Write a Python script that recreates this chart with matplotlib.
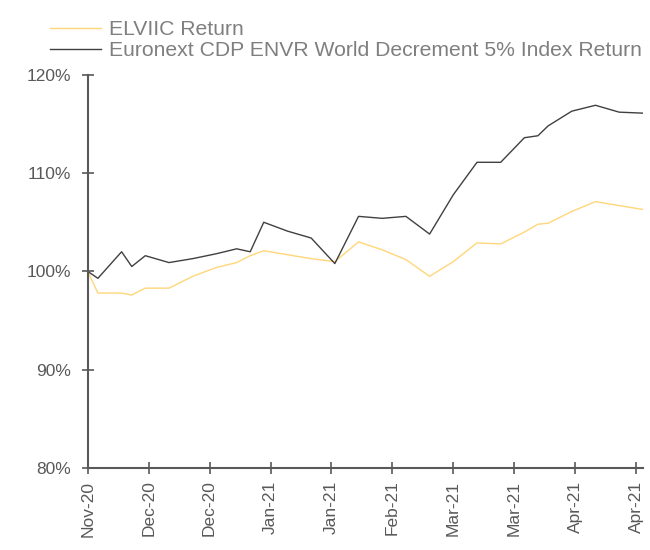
import matplotlib
matplotlib.use('Agg')
import matplotlib.pyplot as plt
import matplotlib.dates as mdates
import pandas as pd

# observation dates and returns (%)
dates = ['2020-11-16', '2020-11-19', '2020-11-26', '2020-11-29', '2020-12-03', '2020-12-10',
         '2020-12-17', '2020-12-24', '2020-12-30', '2021-01-03', '2021-01-07', '2021-01-14',
         '2021-01-21', '2021-01-28', '2021-02-04', '2021-02-11', '2021-02-18', '2021-02-25',
         '2021-03-04', '2021-03-11', '2021-03-18', '2021-03-25', '2021-03-29', '2021-04-01',
         '2021-04-08', '2021-04-15', '2021-04-22', '2021-04-29']
elviic = [100.0, 97.8, 97.8, 97.6, 98.3, 98.3, 99.5, 100.4, 100.9, 101.6, 102.1, 101.7,
          101.3, 101.0, 103.0, 102.2, 101.2, 99.5, 101.0, 102.9, 102.8, 104.0, 104.8, 104.9,
          106.1, 107.1, 106.7, 106.3]
index_ret = [100.0, 99.3, 102.0, 100.5, 101.6, 100.9, 101.3, 101.8, 102.3, 102.0, 105.0, 104.1,
             103.4, 100.8, 105.6, 105.4, 105.6, 103.8, 107.8, 111.1, 111.1, 113.6, 113.8, 114.8,
             116.3, 116.9, 116.2, 116.1]
labels = ['ELVIIC Return', 'Euronext CDP ENVR World Decrement 5% Index Return']

x = pd.to_datetime(dates)

plt.rcParams['font.family'] = ['Liberation Sans', 'DejaVu Sans']
grey = '#595959'

fig = plt.figure(figsize=(6.5, 5.5), dpi=100)
ax = fig.add_axes([0.135, 0.149, 0.854, 0.715])

ax.plot(x, elviic, color='#FFD67A', lw=1.0, label=labels[0])
ax.plot(x, index_ret, color='#404040', lw=1.0, label=labels[1])

ax.set_ylim(80, 120)
ax.set_yticks([80, 90, 100, 110, 120])
ax.set_yticklabels(['%d%%' % v for v in [80, 90, 100, 110, 120]])
ax.set_xlim(x[0], x[-1])

# date ticks every 18 days from the first observation
ticks = pd.date_range(x[0], periods=10, freq='18D')
ax.set_xticks(ticks)
ax.xaxis.set_major_formatter(mdates.DateFormatter('%b-%y'))
plt.setp(ax.get_xticklabels(), rotation=90)

for s in ['top', 'right']:
    ax.spines[s].set_visible(False)
for s in ['left', 'bottom']:
    ax.spines[s].set_color(grey)
    ax.spines[s].set_linewidth(1.5)
ax.tick_params(direction='inout', length=8, width=1.2, color=grey, labelcolor=grey,
               labelsize=12.5)
ax.tick_params(axis='x', pad=5)
ax.tick_params(axis='y', pad=8)

fig.legend(loc='upper left', bbox_to_anchor=(0.061, 0.982), frameon=False, fontsize=15.2,
           labelcolor='#7f7f7f', handlelength=2.4, handletextpad=0.4, labelspacing=0.08,
           borderpad=0)

fig.savefig('out.png', dpi=100)
